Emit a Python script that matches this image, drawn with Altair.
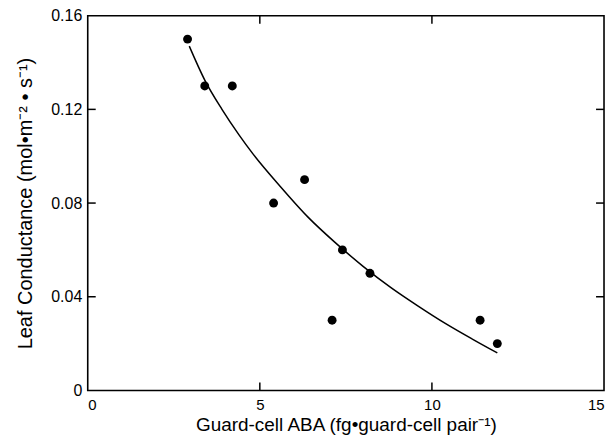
import altair as alt
import pandas as pd

# Measured points
aba = [2.9, 3.4, 4.2, 5.4, 6.3, 7.1, 7.4, 8.2, 11.4, 11.9]
conductance = [0.15, 0.13, 0.13, 0.08, 0.09, 0.03, 0.06, 0.05, 0.03, 0.02]

# Fitted curve
curve_x = [2.95, 3.4, 3.9, 4.4, 4.8, 5.6, 6.4, 7.2, 8.0, 8.8, 9.6, 10.4, 11.2, 11.9]
curve_y = [0.147, 0.1325, 0.120, 0.109, 0.101, 0.087, 0.074, 0.063, 0.053, 0.044, 0.036, 0.0285, 0.0217, 0.016]

x_ticks = [0, 5, 10, 15]
y_ticks = [0, 0.04, 0.08, 0.12, 0.16]
x_inner_ticks = [5, 10]
y_inner_ticks = [0.04, 0.08, 0.12]

W, H = 518, 376
TICK = 8

pts = pd.DataFrame({"x": aba, "y": conductance})
crv = pd.DataFrame({"x": curve_x, "y": curve_y})
xt = pd.DataFrame({"x": x_inner_ticks})
yt = pd.DataFrame({"y": y_inner_ticks})

FONT = "Liberation Sans"
xscale = alt.Scale(domain=[0, 15], nice=False, zero=False)
yscale = alt.Scale(domain=[0, 0.16], nice=False, zero=False)

common_axis = dict(domain=False, grid=False, ticks=False, tickSize=0,
                   labelFont=FONT, labelFontSize=16, labelColor="black",
                   titleFont=FONT, titleFontSize=20, titleFontWeight="normal", titleColor="black")

x_axis_style = dict(common_axis, labelFontSize=15, titleFontSize=19)
x_bottom = alt.Axis(values=x_ticks, format="d", title="Guard-cell ABA (fg\u2022guard-cell pair\u207b\u00b9)",
                    labelPadding=7, titleBaseline="alphabetic", titleY=40, **x_axis_style)
y_left = alt.Axis(values=y_ticks, title="Leaf Conductance (mol\u2022m\u207b\u00b2 \u2022 s\u207b\u00b9)",
                  labelPadding=6, titlePadding=15,
                  labelExpr="datum.value == 0 ? '0' : format(datum.value, '.2f')",
                  **common_axis)

X = lambda f: alt.X(f"{f}:Q", scale=xscale, axis=x_bottom)
Y = lambda f: alt.Y(f"{f}:Q", scale=yscale, axis=y_left)

points = alt.Chart(pts).mark_circle(size=80, color="black", opacity=1).encode(x=X("x"), y=Y("y"))

line = alt.Chart(crv).mark_line(color="black", strokeWidth=1.5, interpolate="monotone").encode(
    x=X("x"), y=Y("y"))

tick_style = dict(color="black", strokeWidth=1.5)
left_ticks = alt.Chart(yt).mark_rule(**tick_style).encode(
    y=Y("y"), x=alt.value(0), x2=alt.value(TICK))
right_ticks = alt.Chart(yt).mark_rule(**tick_style).encode(
    y=Y("y"), x=alt.value(W - TICK), x2=alt.value(W))
bottom_ticks = alt.Chart(xt).mark_rule(**tick_style).encode(
    x=X("x"), y=alt.value(H - TICK), y2=alt.value(H))
top_ticks = alt.Chart(xt).mark_rule(**tick_style).encode(
    x=X("x"), y=alt.value(0), y2=alt.value(TICK))

chart = alt.layer(points, line, left_ticks, right_ticks, bottom_ticks, top_ticks).properties(
    width=W, height=H,
    background="white",
    autosize=alt.AutoSizeParams(type="none"),
    padding={"left": 80, "top": 7, "right": 4, "bottom": 45},
).configure_view(stroke="black", strokeWidth=1.6)

chart.save("out.html", embed_options={"renderer": "svg", "actions": False})
